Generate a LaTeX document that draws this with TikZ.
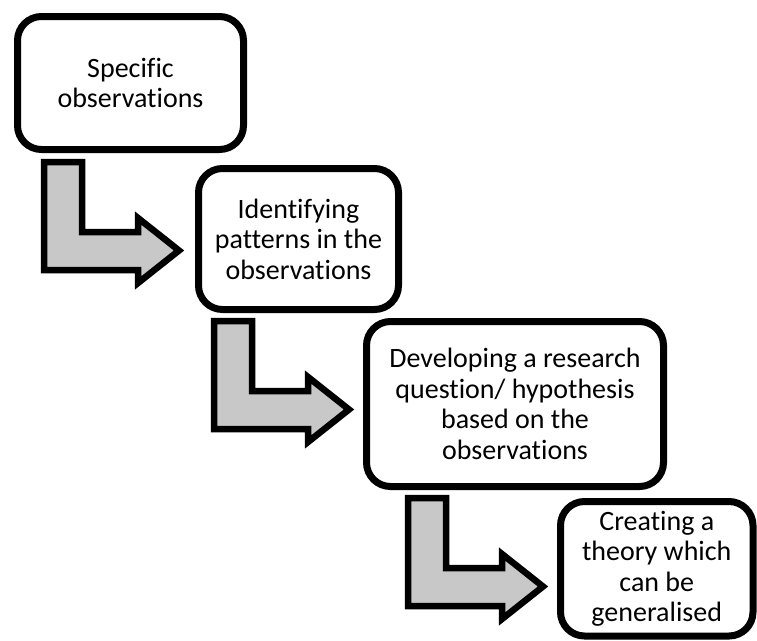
\documentclass[tikz,border=0pt]{standalone}
\usepackage{fontspec}
\setmainfont{Carlito}[Ligatures=NoCommon]
\definecolor{arrowgray}{RGB}{200,200,200}
\begin{document}
\begin{tikzpicture}[x=1pt,y=-1pt,
  box/.style={draw=black, line width=7pt, rounded corners=24pt, fill=white,
    inner sep=0pt, align=center, font=\fontsize{28}{30.5}\selectfont},
  arrowshape/.style={draw=black, line width=6.5pt, fill=arrowgray, line join=miter, miter limit=10},
  bentarrow/.pic={\draw[arrowshape] (0,0) -- (38,0) -- (38,70) -- (94,70) -- (94,56) -- (135,88.5) -- (94,121) -- (94,108) -- (0,108) -- cycle;}]
\useasboundingbox (0,0) rectangle (757,640);
\clip (0,0) rectangle (757,640);
\fill[white] (0,0) rectangle (757,640);
\node[box, minimum width=226pt, minimum height=133pt] (b1) at (130.5,83) {Specific\\observations};
\node[box, minimum width=200pt, minimum height=141pt] (b2) at (298.5,239) {Identifying\\patterns in the\\observations};
\node[box, minimum width=297pt, minimum height=165pt] (b3) at (515,404) {Developing a research\\question/ hypothesis\\based on the\\observations};
\node[box, minimum width=192.5pt, minimum height=134.5pt] (b4) at (656.75,568.75) {Creating a\\theory which\\can be\\generalised};
\pic at (44,162) {bentarrow};
\pic at (214,321) {bentarrow};
\pic at (408,498) {bentarrow};
\end{tikzpicture}
\end{document}
